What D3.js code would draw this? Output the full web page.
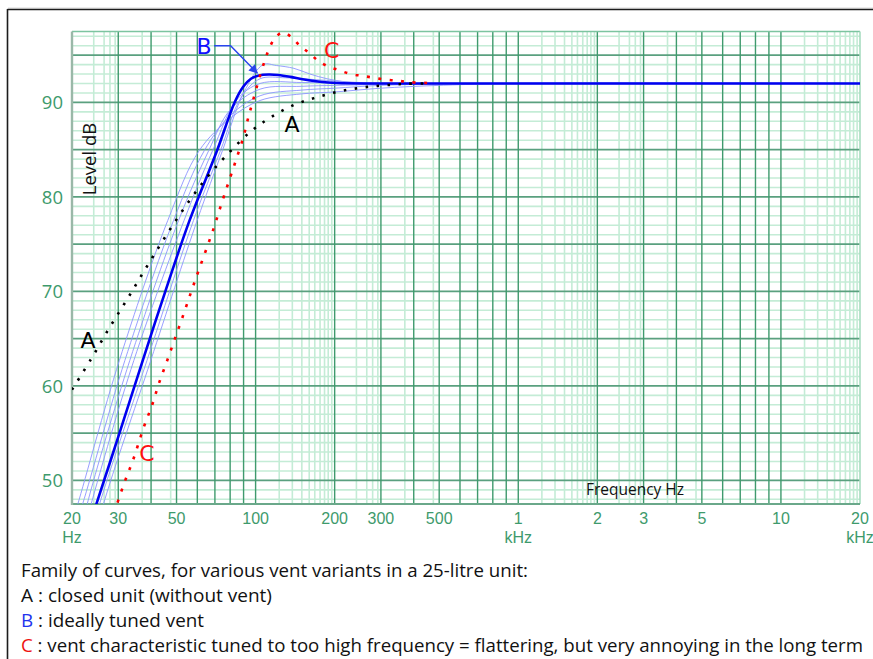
<!DOCTYPE html>
<html><head><meta charset="utf-8">
<script src="https://cdn.jsdelivr.net/npm/d3@7/dist/d3.min.js"></script>
<style>body{margin:0;background:#fff}svg{display:block}</style>
</head><body>
<svg id="c" width="873" height="659"></svg>
<script>
// ---- data (frequency Hz, level dB) ----
const xTicks = [20,30,50,100,200,300,500,1000,2000,3000,5000,10000,20000];
const xTickLabels = ["20","30","50","100","200","300","500","1","2","3","5","10","20"];
const xUnitTicks = [20,1000,20000];
const xUnitLabels = ["Hz","kHz","kHz"];
const yTicks = [50,60,70,80,90];
const yTickLabels = ["50","60","70","80","90"];

// A : closed unit (black dotted)
const curveA = [[20,59.6],[23.6,62.8],[27.7,66.1],[32.5,69.2],[38.1,72.4],[44.9,75.6],[53,78.65],[63.7,81.7],[78.1,84.5],[96.6,87.0],[114,88.4],[138,89.65],[167,90.45],[204,91.1],[251,91.55],[308,91.8],[376,91.97],[450,92]];
// B : ideally tuned vent (thick blue)
const curveB = [[24,46.3],[24.7,47.4],[30,54.6],[37.2,62.7],[45.2,69.9],[55.7,77.3],[71.1,84.8],[83.5,90.1],[90,91.7],[96,92.5],[103,92.85],[112,92.95],[122,92.9],[136,92.7],[151,92.45],[176,92.18],[204,92.05],[273,92.0],[420,92.0],[20000,92.0]];
// C : vent tuned too high (red dotted)
const curveC = [[29,46.5],[29.6,47.4],[31.8,49.9],[34.2,52.2],[37.6,55.7],[40.4,58.0],[42.9,60.3],[46.1,62.7],[49.3,65.0],[52.9,67.4],[56.6,69.8],[60.5,72.1],[64.8,74.4],[69.5,76.8],[73.8,79.1],[78.8,81.5],[84,83.8],[89.8,86.3],[93.8,88.4],[97.1,89.9],[102.4,92.2],[108.6,94.5],[112.7,95.7],[117.8,96.7],[126.6,97.4],[137,96.9],[147.4,96.0],[159.6,95.25],[173,94.4],[189,93.8],[208,93.4],[230,93.0],[256,92.8],[282,92.6],[313,92.4],[346,92.3],[384,92.14],[450,92.05]];
// family of other vent variants (thin blue)
const family1 = [[20,45.5],[21,47.4],[30.3,62.7],[46.3,77.5],[61,84.9],[80,88.3],[104,90.2],[150,90.9],[200,91.1],[300,91.5],[500,91.8],[1000,92],[20000,92]];
const family2 = [[20,44],[21.9,47.4],[31.8,62.7],[48.7,77.5],[63.8,84.9],[80,88.6],[104,90.7],[150,91.3],[200,91.5],[300,91.8],[500,91.95],[1000,92],[20000,92]];
const family3 = [[21,43],[22.8,47.4],[33.2,62.7],[50.9,77.5],[66.3,84.9],[80,89.2],[104,91.4],[150,91.7],[200,91.8],[300,91.9],[600,92],[20000,92]];
const family4 = [[21,42],[23.6,47.4],[34.4,62.7],[53.4,77.5],[68.6,84.9],[85,90.3],[104,92.0],[150,92.1],[200,92.05],[400,92],[20000,92]];
const family5 = [[23,43],[25.4,47.4],[38.6,62.7],[58.0,77.5],[73.5,84.9],[88,90.5],[104,92.5],[130,92.6],[170,92.4],[250,92.1],[500,92],[20000,92]];
const family6 = [[24,43],[26.3,47.4],[39.9,62.7],[59.9,77.5],[74.8,84.9],[90,91],[107,94.0],[120,93.9],[140,93.6],[161,93.0],[187,92.5],[223,92.15],[273,92.0],[500,92],[20000,92]];
const familyCurves = [family1,family2,family3,family4,family5,family6];

// annotation labels [freq, dB, text, colour]
const labels = [[23.0,64.9,"A","#000"],[137.6,87.7,"A","#000"],[63.6,96.0,"B","#1010ff"],[195,95.5,"C","#ff1010"],[38.6,52.9,"C","#ff1010"]];
const arrowB = [[69.5,96.0],[80.3,96.0],[101.5,93.1]];

const caption = [
  [["Family of curves, for various vent variants in a 25-litre unit:","#111"]],
  [["A","#111"],[" : closed unit (without vent)","#111"]],
  [["B","#2233ee"],[" : ideally tuned vent","#111"]],
  [["C","#ee1111"],[" : vent characteristic tuned to too high frequency = flattering, but very annoying in the long term","#111"]]
];
const captionWidths = [507,251,183,842];

// ---- drawing ----
const svg = d3.select("#c");
const X0=72, X1=860, Y0=504, Y1=31.5;
const x = d3.scaleLog().domain([20,20000]).range([X0,X1]);
const y = d3.scaleLinear().domain([47.5,97.5]).range([Y0,Y1]);

// outer frame
svg.append("line").attr("x1",8).attr("x2",873).attr("y1",8).attr("y2",8).attr("stroke","#d8d8d8").attr("stroke-width",1);
svg.append("line").attr("x1",7.5).attr("x2",873).attr("y1",9.5).attr("y2",9.5).attr("stroke","#1c1c1c").attr("stroke-width",1.6);
svg.append("line").attr("x1",7.5).attr("x2",7.5).attr("y1",9).attr("y2",659).attr("stroke","#1c1c1c").attr("stroke-width",1.6);

const grid = svg.append("g");
const LIGHT="#c4ecd6", DARK="#3f9a6d";
for(let v=48; v<=97; v++){ if(v%5!==0) grid.append("line").attr("x1",X0).attr("x2",X1).attr("y1",y(v)).attr("y2",y(v)).attr("stroke",LIGHT).attr("stroke-width",1.6); }
const lightMult=[1.23,1.38,1.5,1.6,1.68,1.76,1.83,1.89,1.95,2.42,2.65,2.79,2.92,3.7,4.75];
const darkMult=[1,2,3,4,5,6,7,8,9];
[10,100,1000,10000].forEach(d=>{
  lightMult.forEach(m=>{const f=m*d; if(f>20&&f<20000) grid.append("line").attr("x1",x(f)).attr("x2",x(f)).attr("y1",Y1).attr("y2",Y0).attr("stroke",LIGHT).attr("stroke-width",1.6);});
});
for(let v=50; v<=95; v+=5){ grid.append("line").attr("x1",X0).attr("x2",X1).attr("y1",y(v)).attr("y2",y(v)).attr("stroke","#5aa07f").attr("stroke-width",1.6); }
[10,100,1000,10000].forEach(d=>{
  darkMult.forEach(m=>{const f=m*d; if(f>20&&f<20000) grid.append("line").attr("x1",x(f)).attr("x2",x(f)).attr("y1",Y1).attr("y2",Y0).attr("stroke",DARK).attr("stroke-width",1.4);});
});
grid.append("line").attr("x1",X0).attr("x2",X1).attr("y1",Y1).attr("y2",Y1).attr("stroke","#7cc4a0").attr("stroke-width",1.6);
grid.append("line").attr("x1",X1).attr("x2",X1).attr("y1",Y1).attr("y2",Y0).attr("stroke","#a8dcc0").attr("stroke-width",1.6);
grid.append("line").attr("x1",X0-1).attr("x2",X1).attr("y1",Y0).attr("y2",Y0).attr("stroke","#6aa88a").attr("stroke-width",2);
grid.append("line").attr("x1",X0).attr("x2",X0).attr("y1",Y1).attr("y2",Y0+1).attr("stroke","#9ab8a8").attr("stroke-width",2.4);

// axis labels
const tickFont = "'Open Sans', 'Noto Sans', sans-serif";
const xFont = "'Liberation Sans', Arial, sans-serif";
const TC = "#3e9a6c";
svg.append("g").selectAll("text").data(yTicks).join("text")
  .attr("x",63).attr("y",d=>y(d)+7).attr("text-anchor","end")
  .attr("font-family",tickFont).attr("font-size",18.5).attr("fill",TC).text((d,i)=>yTickLabels[i]);
svg.append("g").selectAll("text").data(xTicks).join("text")
  .attr("x",d=>x(d)).attr("y",524).attr("text-anchor","middle")
  .attr("font-family",xFont).attr("font-size",16).attr("fill",TC).text((d,i)=>xTickLabels[i]);
svg.append("g").selectAll("text").data(xUnitTicks).join("text")
  .attr("x",d=>x(d)).attr("y",542.5).attr("text-anchor","middle")
  .attr("font-family",xFont).attr("font-size",16).attr("fill",TC).text((d,i)=>xUnitLabels[i]);

svg.append("text").attr("x",635).attr("y",495).attr("text-anchor","middle")
  .attr("font-family",tickFont).attr("font-size",15.5).attr("fill","#111").text("Frequency Hz");
svg.append("text").attr("transform","translate(96,159) rotate(-90)").attr("text-anchor","middle")
  .attr("font-family",tickFont).attr("font-size",18.5).attr("fill","#111").text("Level dB");

// curves
svg.append("defs").append("clipPath").attr("id","pc").append("rect")
  .attr("x",X0).attr("y",Y1-2).attr("width",X1-X0).attr("height",Y0-Y1+2);
const line = d3.line().x(d=>x(d[0])).y(d=>y(d[1])).curve(d3.curveCatmullRom.alpha(0.5));
const cg = svg.append("g").attr("clip-path","url(#pc)");
familyCurves.forEach(c=>cg.append("path").attr("d",line(c)).attr("fill","none").attr("stroke","#8c94ff").attr("stroke-width",0.9));
cg.append("path").attr("d",line(curveB)).attr("fill","none").attr("stroke","#0000f0").attr("stroke-width",2.6);
cg.append("path").attr("d",line(curveA)).attr("fill","none").attr("stroke","#000").attr("stroke-width",2.6).attr("stroke-dasharray","2.5,8.5");
cg.append("path").attr("d",line(curveC)).attr("fill","none").attr("stroke","#ff0000").attr("stroke-width",2.6).attr("stroke-dasharray","3,8.5");

// arrow for B
svg.select("defs").append("marker").attr("id","ah").attr("viewBox","0 0 10 10").attr("refX",9).attr("refY",5)
  .attr("markerWidth",9).attr("markerHeight",9).attr("markerUnits","userSpaceOnUse").attr("orient","auto")
  .append("path").attr("d","M0,0 L10,5 L0,10 z").attr("fill","#2a44ee");
svg.append("path").attr("d",d3.line().x(d=>x(d[0])).y(d=>y(d[1]))(arrowB))
  .attr("fill","none").attr("stroke","#2a44ee").attr("stroke-width",1.5).attr("marker-end","url(#ah)");

// labels
svg.append("g").selectAll("text").data(labels).join("text")
  .attr("x",d=>x(d[0])).attr("y",d=>y(d[1])+8).attr("text-anchor","middle")
  .attr("font-family","'DejaVu Sans', sans-serif").attr("font-size",22).attr("fill",d=>d[3]).text(d=>d[2]);

// caption
const capY=[577,602,627,652];
caption.forEach((parts,i)=>{
  const t = svg.append("text").attr("x",21).attr("y",capY[i]).attr("font-family","'Open Sans', sans-serif")
    .attr("font-size",17.5).attr("textLength",captionWidths[i]).attr("lengthAdjust","spacingAndGlyphs");
  parts.forEach(p=>t.append("tspan").attr("fill",p[1]).text(p[0]));
});
</script>
</body></html>
